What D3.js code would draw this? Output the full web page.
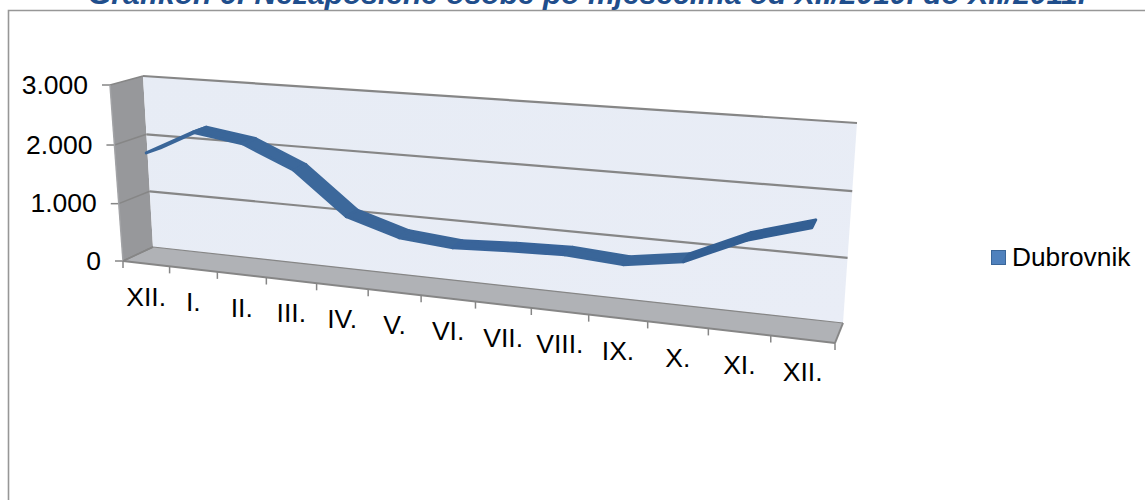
<!DOCTYPE html>
<html><head><meta charset="utf-8">
<script src="https://cdn.jsdelivr.net/npm/d3@7"></script>
<style>html,body{margin:0;padding:0;background:#fff}svg{display:block}text{font-family:"Liberation Sans",Arial,sans-serif}</style>
</head><body><div id="c"></div>
<script>
const categories = ["XII.","I.","II.","III.","IV.","V.","VI.","VII.","VIII.","IX.","X.","XI.","XII."];
const dubrovnik = [1850,2265,2140,1775,1090,830,755,800,825,765,905,1325,1600];
const valueTicks = [0,1000,2000,3000];
const tickLabels = ["0","1.000","2.000","3.000"];
const seriesName = "Dubrovnik";
const titleText = "Grafikon 6: Nezaposlene osobe po mjesecima od XII/2010. do XII/2011.";

const W=1145,H=500;
const svg=d3.select("#c").append("svg").attr("width",W).attr("height",H);
const defs=svg.append("defs");
const wg=defs.append("linearGradient").attr("id","wall").attr("x1",0).attr("y1",0).attr("x2",1).attr("y2",1);
wg.append("stop").attr("offset",0).attr("stop-color","#e7ecf5");
wg.append("stop").attr("offset",1).attr("stop-color","#e9edf6");

// chart frame
svg.append("path").attr("d","M8.5,500V10.5H1145").attr("fill","none").attr("stroke","#979797").attr("stroke-width",1.6);

// perspective box: corners in page space
const box={
  blb:[153,247],brb:[843,323],blt:[143,76],brt:[857,123],
  flb:[123,261],frb:[835,343],flt:[110,85],frt:[850,138]
};
const warp=(t,k)=>t/(t+k*(1-t));
const uBand=d3.scaleBand().domain(d3.range(categories.length)).range([0,1]);
const uPoint=d3.scalePoint().domain(d3.range(categories.length)).range([0.01,0.988]).padding(0.35);
const vScale=d3.scaleLinear().domain([0,3000]).range([0,1]);
const lerp=(a,b,t)=>[a[0]+(b[0]-a[0])*t,a[1]+(b[1]-a[1])*t];
function P(u,value,d){ // u: 0..1 along time, value, d: 0 front..1 back
  const s=warp(u,1.19), v=warp(vScale(value),1.035);
  const fb=lerp(box.flb,box.frb,s), ft=lerp(box.flt,box.frt,s);
  const bb=lerp(box.blb,box.brb,s), bt=lerp(box.blt,box.brt,s);
  return lerp(lerp(fb,ft,v),lerp(bb,bt,v),d);
}
const poly=pts=>"M"+pts.map(p=>p.map(n=>n.toFixed(2)).join(",")).join("L")+"Z";
const seg=(a,b)=>"M"+a.join(",")+"L"+b.join(",");
const grey="#868686";

// walls
svg.append("path").attr("d",poly([P(0,3000,0),P(0,3000,1),P(0,0,1),P(0,0,0)])).attr("fill","#97989b");
svg.append("path").attr("d",poly([P(0,0,1),P(1,0,1),P(1,3000,1),P(0,3000,1)])).attr("fill","url(#wall)");
svg.append("path").attr("d",poly([P(0,0,0),P(1,0,0),P(1,0,1),P(0,0,1)])).attr("fill","#b0b2b6");

// gridlines
valueTicks.forEach(v=>{
  if(v>0) svg.append("path").attr("d",seg(P(0,v,1),P(1,v,1))).attr("stroke",grey).attr("stroke-width",2.2).attr("fill","none");
  svg.append("path").attr("d",seg(P(0,v,0),P(0,v,1))).attr("stroke",grey).attr("stroke-width",1.5).attr("fill","none");
  const f=P(0,v,0);
  svg.append("path").attr("d",`M${f[0]-8},${f[1]}H${f[0]}`).attr("stroke",grey).attr("stroke-width",1.5);
});
// axis edges
svg.append("path").attr("d",seg(P(0,0,0),P(0,3000,0))).attr("stroke","#a2a3a6").attr("stroke-width",1.5).attr("fill","none");
svg.append("path").attr("d",seg(P(0,0,1),P(1,0,1))).attr("stroke",grey).attr("stroke-width",1.2).attr("fill","none");
svg.append("path").attr("d",seg(P(0,0,0),P(1,0,0))).attr("stroke",grey).attr("stroke-width",2).attr("fill","none");
svg.append("path").attr("d",seg(P(1,0,0),P(1,0,1))).attr("stroke",grey).attr("stroke-width",2).attr("fill","none");
svg.append("path").attr("d",seg(P(0,0,0),P(0,0,1))).attr("stroke",grey).attr("stroke-width",1.5).attr("fill","none");

// x ticks
d3.range(categories.length+1).forEach(i=>{
  const u=i*uBand.step(), p=P(u,0,0);
  svg.append("path").attr("d",`M${p[0]},${p[1]}v7`).attr("stroke",grey).attr("stroke-width",1.5);
});

// value labels
valueTicks.forEach((v,i)=>{
  const f=P(0,v,0);
  svg.append("text").attr("x",f[0]-22).attr("y",f[1]+8.5).attr("text-anchor","end").attr("font-size",26.5).attr("fill","#000").text(tickLabels[i]);
});
// category labels
categories.forEach((c,i)=>{
  const u=uBand(i)+uBand.bandwidth()/2, p=P(u,0,0);
  svg.append("text").attr("x",p[0]).attr("y",p[1]+42).attr("text-anchor","middle").attr("font-size",26.5).attr("fill","#000").text(c);
});

// ribbon
const d0=0.27,d1=0.73;
const shades=["#3a6699","#3a6699","#3c689b","#3c689b","#3b6699","#3b6699","#39649a","#39649a","#3a6699","#3a6699","#335f93","#335f93"];
dubrovnik.slice(0,-1).forEach((v,i)=>{
  const a=uPoint(i),b=uPoint(i+1),w=dubrovnik[i+1];
  svg.append("path").attr("d",poly([P(a,v,d0),P(b,w,d0),P(b,w,d1),P(a,v,d1)]))
    .attr("fill",shades[i]).attr("stroke",shades[i]).attr("stroke-width",3).attr("stroke-linejoin","round");
});

// legend
svg.append("rect").attr("x",991.5).attr("y",250.5).attr("width",14).attr("height",14).attr("fill","#4f81bd").attr("stroke","#3a6699");
svg.append("text").attr("x",1012).attr("y",266).attr("font-size",26.3).attr("fill","#000").text(seriesName);

// title
svg.append("text").attr("x",587).attr("y",4).attr("text-anchor","middle").attr("font-size",30).attr("font-weight","bold").attr("font-style","italic").attr("fill","#1f4e8c").text(titleText);
</script></body></html>
